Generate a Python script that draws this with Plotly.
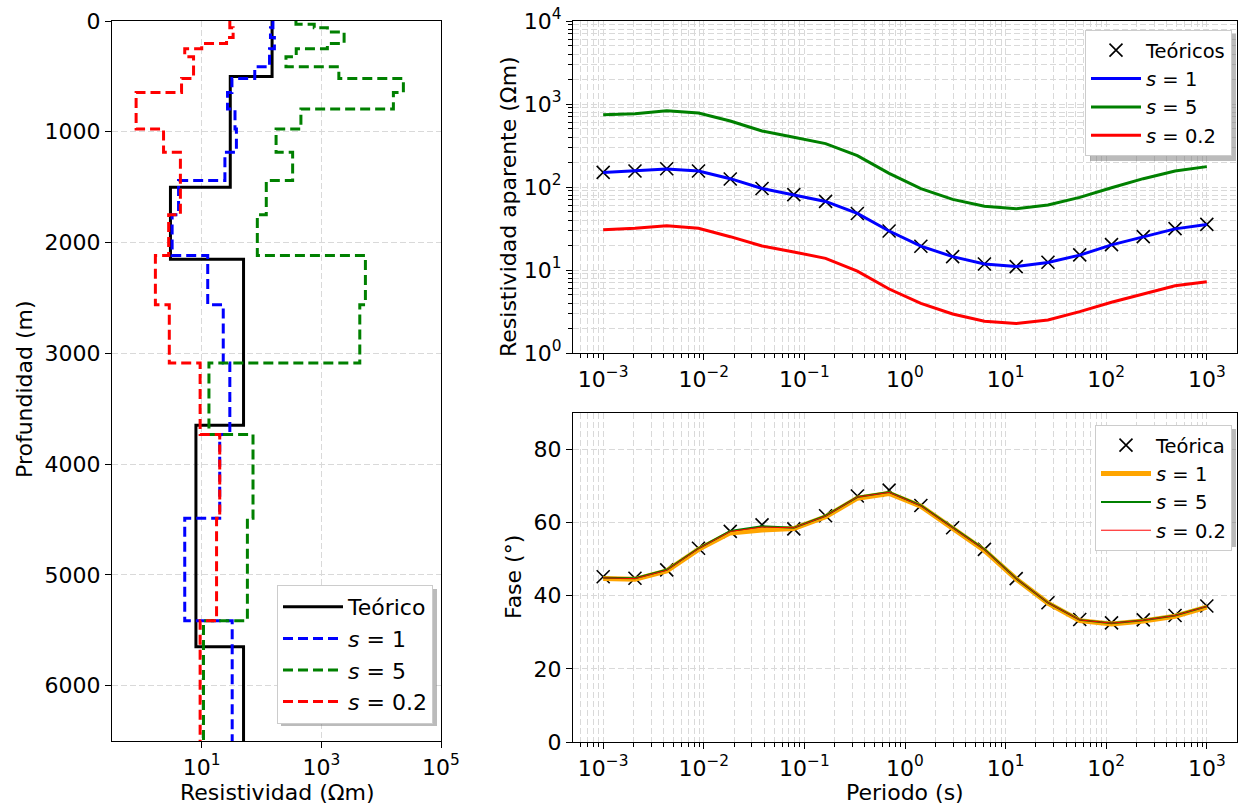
import plotly.graph_objects as go

# ---------------- data ----------------
# Left panel: layered resistivity models (layer tops in m, resistivity in Ohm m)
depth_bottom = 6500
teo_tops = [0, 500, 1500, 2150, 3650, 5650]
teo_rho = [150, 30, 3, 50, 8, 50]

inv_tops = [0, 30, 60, 100, 150, 204, 250, 322, 414, 518, 645, 795, 976, 1186,
            1441, 1750, 2117, 2561, 3087, 3732, 4489, 5414]
rho_inv_s1 = [155, 155, 141, 141, 164, 164, 136, 136, 77, 32, 27, 36, 38, 24.4,
              4.1, 3.2, 12.6, 22.9, 29.5, 20, 5.2, 32.3]
rho_inv_s5 = [376, 760, 1260, 2400, 2400, 1260, 380, 256, 1960, 23500, 16000, 455,
              175, 331, 120, 85, 5450, 4390, 13.2, 72, 58, 10.7]
rho_inv_s02 = [29.5, 29.5, 33.5, 33.5, 26, 10, 5.2, 7.3, 7.3, 4.6, 0.8, 0.8, 2.3,
               4.4, 4.4, 2.8, 1.68, 2.87, 9.4, 20, 17.7, 9.4]

# Right panels: MT responses
periods = [0.001, 0.00207, 0.00428, 0.00886, 0.01833, 0.03793, 0.07848, 0.1624,
           0.336, 0.6952, 1.438, 2.976, 6.158, 12.74, 26.37, 54.56, 112.9, 233.6,
           483.3, 1000]
rhoa_teo = [150, 156, 166, 156, 125, 96, 81, 67, 48, 29.5, 19.3, 14.5, 11.8, 11.0,
            12.4, 15.2, 20.2, 25.2, 31.5, 35.5]
rhoa_s1 = [150, 156, 165, 156, 126, 96, 81, 67, 48, 29.5, 19.4, 14.5, 11.8, 11.0,
           12.3, 15.1, 20.1, 25.2, 31.3, 35.3]
rhoa_s5 = [743, 764, 830, 780, 624, 473, 397, 333, 239, 146, 95.5, 71, 58.5, 54.8,
           60.7, 75, 98, 126, 156, 176]
rhoa_s02 = [30.6, 31.8, 34.2, 31.8, 25.2, 19.5, 16.5, 13.8, 9.7, 5.9, 3.97, 2.95,
            2.41, 2.26, 2.50, 3.15, 4.08, 5.19, 6.47, 7.22]

fase_teo = [45.2, 44.8, 47.1, 53.0, 57.6, 59.4, 58.3, 61.9, 67.3, 68.9, 64.7, 58.6,
            52.7, 44.7, 38.1, 33.5, 32.6, 33.4, 34.6, 37.2]
fase_s1 = [44.7, 44.5, 46.8, 52.7, 57.2, 58.0, 58.4, 61.6, 66.7, 68.0, 64.5, 58.4,
           52.4, 44.6, 38.0, 33.2, 32.3, 33.1, 34.4, 36.9]
fase_s5 = [44.9, 44.8, 47.1, 53.0, 57.7, 59.0, 58.6, 61.9, 67.0, 68.4, 64.7, 58.6,
           52.7, 44.7, 38.1, 33.4, 32.5, 33.3, 34.6, 37.1]
fase_s02 = [44.9, 44.7, 47.0, 52.9, 57.6, 58.8, 58.6, 61.8, 67.0, 68.3, 64.6, 58.5,
            52.6, 44.7, 38.1, 33.4, 32.5, 33.3, 34.6, 37.1]

labels = ["<i>s</i> = 1", "<i>s</i> = 5", "<i>s</i> = 0.2"]

# ---------------- figure ----------------
FONT = "DejaVu Sans"
FS = 22
FS_LEG_R = 19.5
W, H = 1238, 806
BLUE, GREEN, RED, ORANGE = "#0000ff", "#008000", "#ff0000", "#ffa500"
GRID = "#d9d9d9"


def step(tops, rho, bottom):
    return list(rho) + [rho[-1]], list(tops) + [bottom]


fig = go.Figure()

# Left panel
x, y = step(teo_tops, teo_rho, depth_bottom)
fig.add_trace(go.Scatter(x=x, y=y, mode="lines", line=dict(color="black", width=3, shape="vh"),
                         name="Teórico", legend="legend", xaxis="x", yaxis="y"))
for rho, col, lab in zip([rho_inv_s1, rho_inv_s5, rho_inv_s02], [BLUE, GREEN, RED], labels):
    x, y = step(inv_tops, rho, depth_bottom)
    fig.add_trace(go.Scatter(x=x, y=y, mode="lines",
                             line=dict(color=col, width=3, shape="vh", dash="10px,5px"),
                             name=lab, legend="legend", xaxis="x", yaxis="y"))

# Top right
fig.add_trace(go.Scatter(x=periods, y=rhoa_teo, mode="markers", name="Teóricos",
                         marker=dict(symbol="x-thin", size=13, line=dict(color="black", width=1.6), color="black"),
                         legend="legend2", xaxis="x2", yaxis="y2"))
for rho, col, lab in zip([rhoa_s1, rhoa_s5, rhoa_s02], [BLUE, GREEN, RED], labels):
    fig.add_trace(go.Scatter(x=periods, y=rho, mode="lines", line=dict(color=col, width=3),
                             name=lab, legend="legend2", xaxis="x2", yaxis="y2"))

# Bottom right
fig.add_trace(go.Scatter(x=periods, y=fase_teo, mode="markers", name="Teórica",
                         marker=dict(symbol="x-thin", size=13, line=dict(color="black", width=1.6), color="black"),
                         legend="legend3", xaxis="x3", yaxis="y3"))
for ph, col, lab, w in zip([fase_s1, fase_s5, fase_s02], [ORANGE, GREEN, RED], labels, [5, 2, 1]):
    fig.add_trace(go.Scatter(x=periods, y=ph, mode="lines", line=dict(color=col, width=w),
                             name=lab, legend="legend3", xaxis="x3", yaxis="y3"))

# ---------------- axes ----------------
def px_x(p):
    return p / W


def px_y(p):
    return (H - p) / H


tickfont = dict(family=FONT, size=FS, color="black")
common = dict(showline=True, linecolor="black", linewidth=1.3, mirror=True, ticks="outside",
              ticklen=6, tickwidth=1.3, tickcolor="black", tickfont=tickfont, zeroline=False,
              showgrid=True, gridcolor=GRID, griddash="6px,3px", gridwidth=1, automargin=False)

log_minor = [k * 10 ** n for n in range(-4, 5) for k in range(2, 10)]
minor_cfg = dict(tickmode="array", tickvals=log_minor, ticks="outside", ticklen=3.5,
                 tickcolor="black", showgrid=True, gridcolor=GRID, griddash="6px,3px", gridwidth=1)


def sup(e):
    s = str(e).replace("-", "\u2212")
    return f"10<sup>{s}</sup>"


per_ticks = [10 ** e for e in range(-3, 4)]
per_text = [sup(e) for e in range(-3, 4)]

fig.update_layout(
    width=W, height=H, margin=dict(l=0, r=0, t=0, b=0),
    paper_bgcolor="white", plot_bgcolor="white",
    font=dict(family=FONT, size=FS, color="black"),
    xaxis=dict(common, type="log", range=[-0.5, 5.0], domain=[px_x(112), px_x(441)],
               tickmode="array", tickvals=[10, 1000, 100000], ticktext=[sup(1), sup(3), sup(5)],
               anchor="y"),
    yaxis=dict(common, range=[6500, 0], domain=[px_y(741), px_y(21)],
               tickmode="array", tickvals=[0, 1000, 2000, 3000, 4000, 5000, 6000], anchor="x"),
    xaxis2=dict(common, type="log", range=[-3.3, 3.3], domain=[px_x(573), px_x(1237)],
                tickmode="array", tickvals=per_ticks, ticktext=per_text, minor=minor_cfg, anchor="y2"),
    yaxis2=dict(common, type="log", range=[0, 4], domain=[px_y(353), px_y(21)],
                tickmode="array", tickvals=[1, 10, 100, 1000, 10000], ticktext=[sup(e) for e in range(0, 5)],
                minor=minor_cfg, anchor="x2"),
    xaxis3=dict(common, type="log", range=[-3.3, 3.3], domain=[px_x(573), px_x(1237)],
                tickmode="array", tickvals=per_ticks, ticktext=per_text, minor=minor_cfg, anchor="y3"),
    yaxis3=dict(common, range=[0, 90], domain=[px_y(742), px_y(413)],
                tickmode="array", tickvals=[0, 20, 40, 60, 80], anchor="x3"),
    showlegend=True,
)

leg_common = dict(bgcolor="white", bordercolor="#cccccc", borderwidth=1,
                  xanchor="right", yanchor="top", tracegroupgap=0)
fig.update_layout(
    legend=dict(leg_common, x=px_x(433), y=px_y(585), itemwidth=60,
                font=dict(family=FONT, size=FS, color="black")),
    legend2=dict(leg_common, x=px_x(1232), y=px_y(30), itemwidth=50,
                 font=dict(family=FONT, size=FS_LEG_R, color="black")),
    legend3=dict(leg_common, x=px_x(1232), y=px_y(425), itemwidth=50,
                 font=dict(family=FONT, size=FS_LEG_R, color="black")),
)

# legend drop shadows (drawn under the opaque legend boxes)
for (x0, y0, x1, y1) in [(277, 585, 433, 722), (1086, 30, 1232, 157), (1095, 425, 1232, 543)]:
    fig.add_shape(type="rect", xref="paper", yref="paper", layer="above",
                  x0=px_x(x0 + 4), x1=px_x(x1 + 4), y0=px_y(y1 + 4), y1=px_y(y0 + 4),
                  fillcolor="rgba(120,120,120,0.5)", line=dict(width=0))

ann = dict(xref="paper", yref="paper", showarrow=False, xanchor="center", yanchor="middle",
           font=dict(family=FONT, size=FS, color="black"))
fig.add_annotation(ann, text="Profundidad (m)", x=px_x(25), y=px_y(389), textangle=-90)
fig.add_annotation(ann, text="Resistividad (Ωm)", x=px_x(277), y=px_y(792))
fig.add_annotation(ann, text="Resistividad aparente (Ωm)", x=px_x(508), y=px_y(207), textangle=-90)
fig.add_annotation(ann, text="Fase (°)", x=px_x(514), y=px_y(577), textangle=-90)
fig.add_annotation(ann, text="Periodo (s)", x=px_x(905), y=px_y(792))

fig.write_html("out.html")
